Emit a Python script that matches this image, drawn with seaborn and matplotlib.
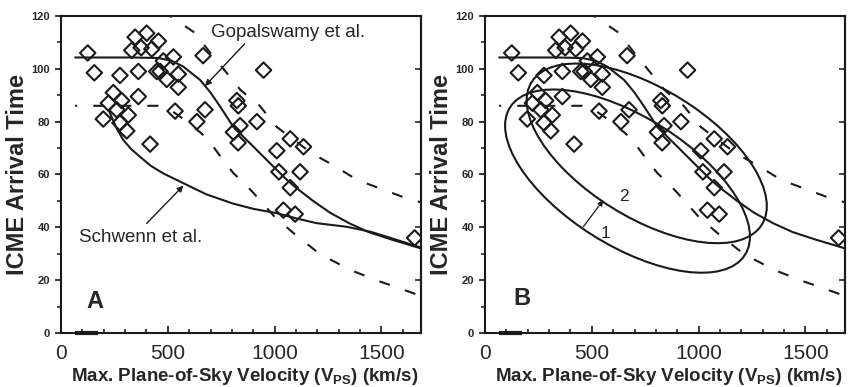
import matplotlib
matplotlib.use("Agg")
import numpy as np
import matplotlib.pyplot as plt
import seaborn as sns
from matplotlib.patches import Ellipse
from matplotlib.transforms import Affine2D
from matplotlib.ticker import MultipleLocator

# ---------------- data ----------------
velocity = [125, 156, 276, 362, 347, 401, 375, 331, 425, 456, 526, 549, 549, 464, 495, 479,
            245, 284, 362, 222, 261, 315, 198, 276, 308, 534, 417, 665, 636, 674, 807, 838,
            823, 830, 829, 917, 948, 1010, 1073, 1135, 1020, 1119, 1073, 1041, 1096, 1655, 448]
arrival = [106, 98.5, 97.5, 99, 112, 113.5, 108, 107, 107.5, 110.5, 104.5, 98, 93, 99, 96, 103,
           91, 88, 89.5, 87, 84.5, 82.5, 81, 79.5, 76.5, 84, 71.5, 105, 80, 84.5, 76, 78.5,
           88, 86, 72, 80, 99.5, 69, 73.5, 70.5, 61, 61, 55, 46.5, 45, 36, 99]

gop_v = [66, 200, 330, 455, 520, 573, 651, 700, 745, 807, 901, 994, 1057, 1100, 1180, 1260,
         1350, 1440, 1550, 1686]
gop_t = [104.3, 104.3, 104.3, 104.1, 103, 100.8, 95.8, 91, 85.7, 78, 70.5, 63, 58, 55, 50,
         45.5, 41.5, 38.2, 35.3, 32]

sch_v = [225, 260, 292, 330, 370, 420, 479, 573, 680, 805, 900, 1008, 1096, 1195, 1338, 1450,
         1550, 1686]
sch_t = [84, 77.5, 73, 69.5, 66.7, 63.3, 60.4, 56.7, 52.5, 49, 47, 45.4, 43.5, 41.6, 40.2,
         38.3, 35.8, 32.3]

upper_v = [510, 620, 760, 840, 930, 1010, 1174, 1275, 1385, 1500, 1640, 1686]
upper_t = [120, 114, 100, 92, 86, 78, 68, 63.5, 58, 54.5, 50.3, 49.5]

lower_v = [66, 455, 520, 573, 651, 690, 745, 807, 860, 901, 1000, 1100, 1210, 1350, 1475, 1686]
lower_t = [86, 86, 84, 81, 76, 73, 67, 60.5, 56.5, 53, 44, 37, 30, 24, 20, 14]

bar_v = [65, 175]
bar_t = [0, 0]

# ellipses: centre and two conjugate semi-diameters (data units)
ell1_center = (667, 57.5)
ell1_a = (573, -21)
ell1_b = (0, 27.6)
ell2_center = (757, 68)
ell2_a = (562, -20)
ell2_b = (0, 27.5)

x_ticks = [0, 500, 1000, 1500]
y_ticks = [0, 20, 40, 60, 80, 100, 120]

# ---------------- style ----------------
sns.set_theme(style="white")
plt.rcParams["font.family"] = ["Liberation Sans", "DejaVu Sans"]
plt.rcParams["mathtext.fontset"] = "custom"
plt.rcParams["mathtext.rm"] = "Liberation Sans"
plt.rcParams["mathtext.bf"] = "Liberation Sans:bold"

fig = plt.figure(figsize=(8.48, 3.87), dpi=100)
ax1 = fig.add_axes([61 / 848, 1 - 333 / 387, 360 / 848, 317 / 387])
ax2 = fig.add_axes([485 / 848, 1 - 333 / 387, 360 / 848, 317 / 387])

LW = 1.5
dash_style = (4.3, (5.3, 7.7))


def base_panel(ax, letter, letter_xy):
    sns.lineplot(x=gop_v, y=gop_t, ax=ax, color="k", lw=LW, sort=False, estimator=None)
    sns.lineplot(x=upper_v, y=upper_t, ax=ax, color="k", lw=LW, sort=False,
                 estimator=None, linestyle=dash_style)
    sns.lineplot(x=lower_v, y=lower_t, ax=ax, color="k", lw=LW, sort=False,
                 estimator=None, linestyle=dash_style)
    sns.scatterplot(x=velocity, y=arrival, ax=ax, marker="D", s=62,
                    facecolor="none", edgecolor="k", linewidth=1.5, zorder=3)
    sns.lineplot(x=bar_v, y=bar_t, ax=ax, color="k", lw=3, sort=False, estimator=None,
                 clip_on=False, solid_capstyle="butt")

    ax.set_xlim(0, 1685)
    ax.set_ylim(0, 120)
    ax.set_xticks(x_ticks)
    ax.set_yticks(y_ticks)
    ax.xaxis.set_minor_locator(MultipleLocator(100))
    ax.yaxis.set_minor_locator(MultipleLocator(10))
    ax.tick_params(axis="x", which="major", direction="in", length=5, width=1.3,
                   labelsize=15, pad=8, bottom=True)
    ax.tick_params(axis="x", which="minor", direction="in", length=3, width=1.2, bottom=True)
    ax.tick_params(axis="y", which="major", direction="out", length=4, width=1.3,
                   labelsize=8, pad=4, left=True)
    ax.tick_params(axis="y", which="minor", direction="out", length=3, width=1.2, left=True)
    for lab in ax.get_yticklabels():
        lab.set_fontweight("bold")
    for sp in ax.spines.values():
        sp.set_linewidth(1.5)
        sp.set_color("k")
        sp.set_visible(True)

    sec = ax.secondary_yaxis("right")
    sec.set_yticks(y_ticks)
    sec.tick_params(direction="in", length=4, width=1.2, labelright=False)
    sec.spines["right"].set_linewidth(1.5)

    ax.set_ylabel("ICME Arrival Time", fontsize=17, fontweight="bold")
    ax.yaxis.set_label_coords(-0.088, 0.5)
    ax.set_xlabel(r"Max. Plane-of-Sky Velocity (V$_{\mathbf{PS}}$) (km/s)",
                  fontsize=13.5, fontweight="bold")
    ax.xaxis.set_label_coords(0.51, -0.105)
    ax.text(letter_xy[0], letter_xy[1], letter, fontsize=17, fontweight="bold",
            ha="center", va="center")


def draw_ellipse(ax, c, a, b):
    m = np.array([[a[0], b[0], c[0]], [a[1], b[1], c[1]], [0, 0, 1]], dtype=float)
    e = Ellipse((0, 0), 2, 2, fill=False, ec="k", lw=LW,
                transform=Affine2D(m) + ax.transData)
    ax.add_patch(e)


# ---------------- panel A ----------------
base_panel(ax1, "A", (159, 12))
sns.lineplot(x=sch_v, y=sch_t, ax=ax1, color="k", lw=LW, sort=False, estimator=None)
ax1.text(1065, 113.7, "Gopalswamy et al.", fontsize=13.5, ha="center", va="center")
ax1.annotate("", xy=(674, 93.5), xytext=(860, 109.5),
             arrowprops=dict(arrowstyle="-|>", color="k", lw=1.0, shrinkA=0, shrinkB=0,
                             mutation_scale=9))
ax1.text(374, 36.2, "Schwenn et al.", fontsize=13.5, ha="center", va="center")
ax1.annotate("", xy=(573, 55.8), xytext=(401, 41.5),
             arrowprops=dict(arrowstyle="-|>", color="k", lw=1.0, shrinkA=0, shrinkB=0,
                             mutation_scale=9))

# ---------------- panel B ----------------
base_panel(ax2, "B", (172, 13))
draw_ellipse(ax2, ell1_center, ell1_a, ell1_b)
draw_ellipse(ax2, ell2_center, ell2_a, ell2_b)
ax2.annotate("", xy=(554, 50.3), xytext=(460, 40.2),
             arrowprops=dict(arrowstyle="-|>", color="k", lw=0.9, shrinkA=0, shrinkB=0,
                             mutation_scale=8))
ax2.text(566, 37.5, "1", fontsize=12.5, ha="center", va="center")
ax2.text(650, 51.5, "2", fontsize=12.5, ha="center", va="center")

fig.savefig("out.png", dpi=100)
